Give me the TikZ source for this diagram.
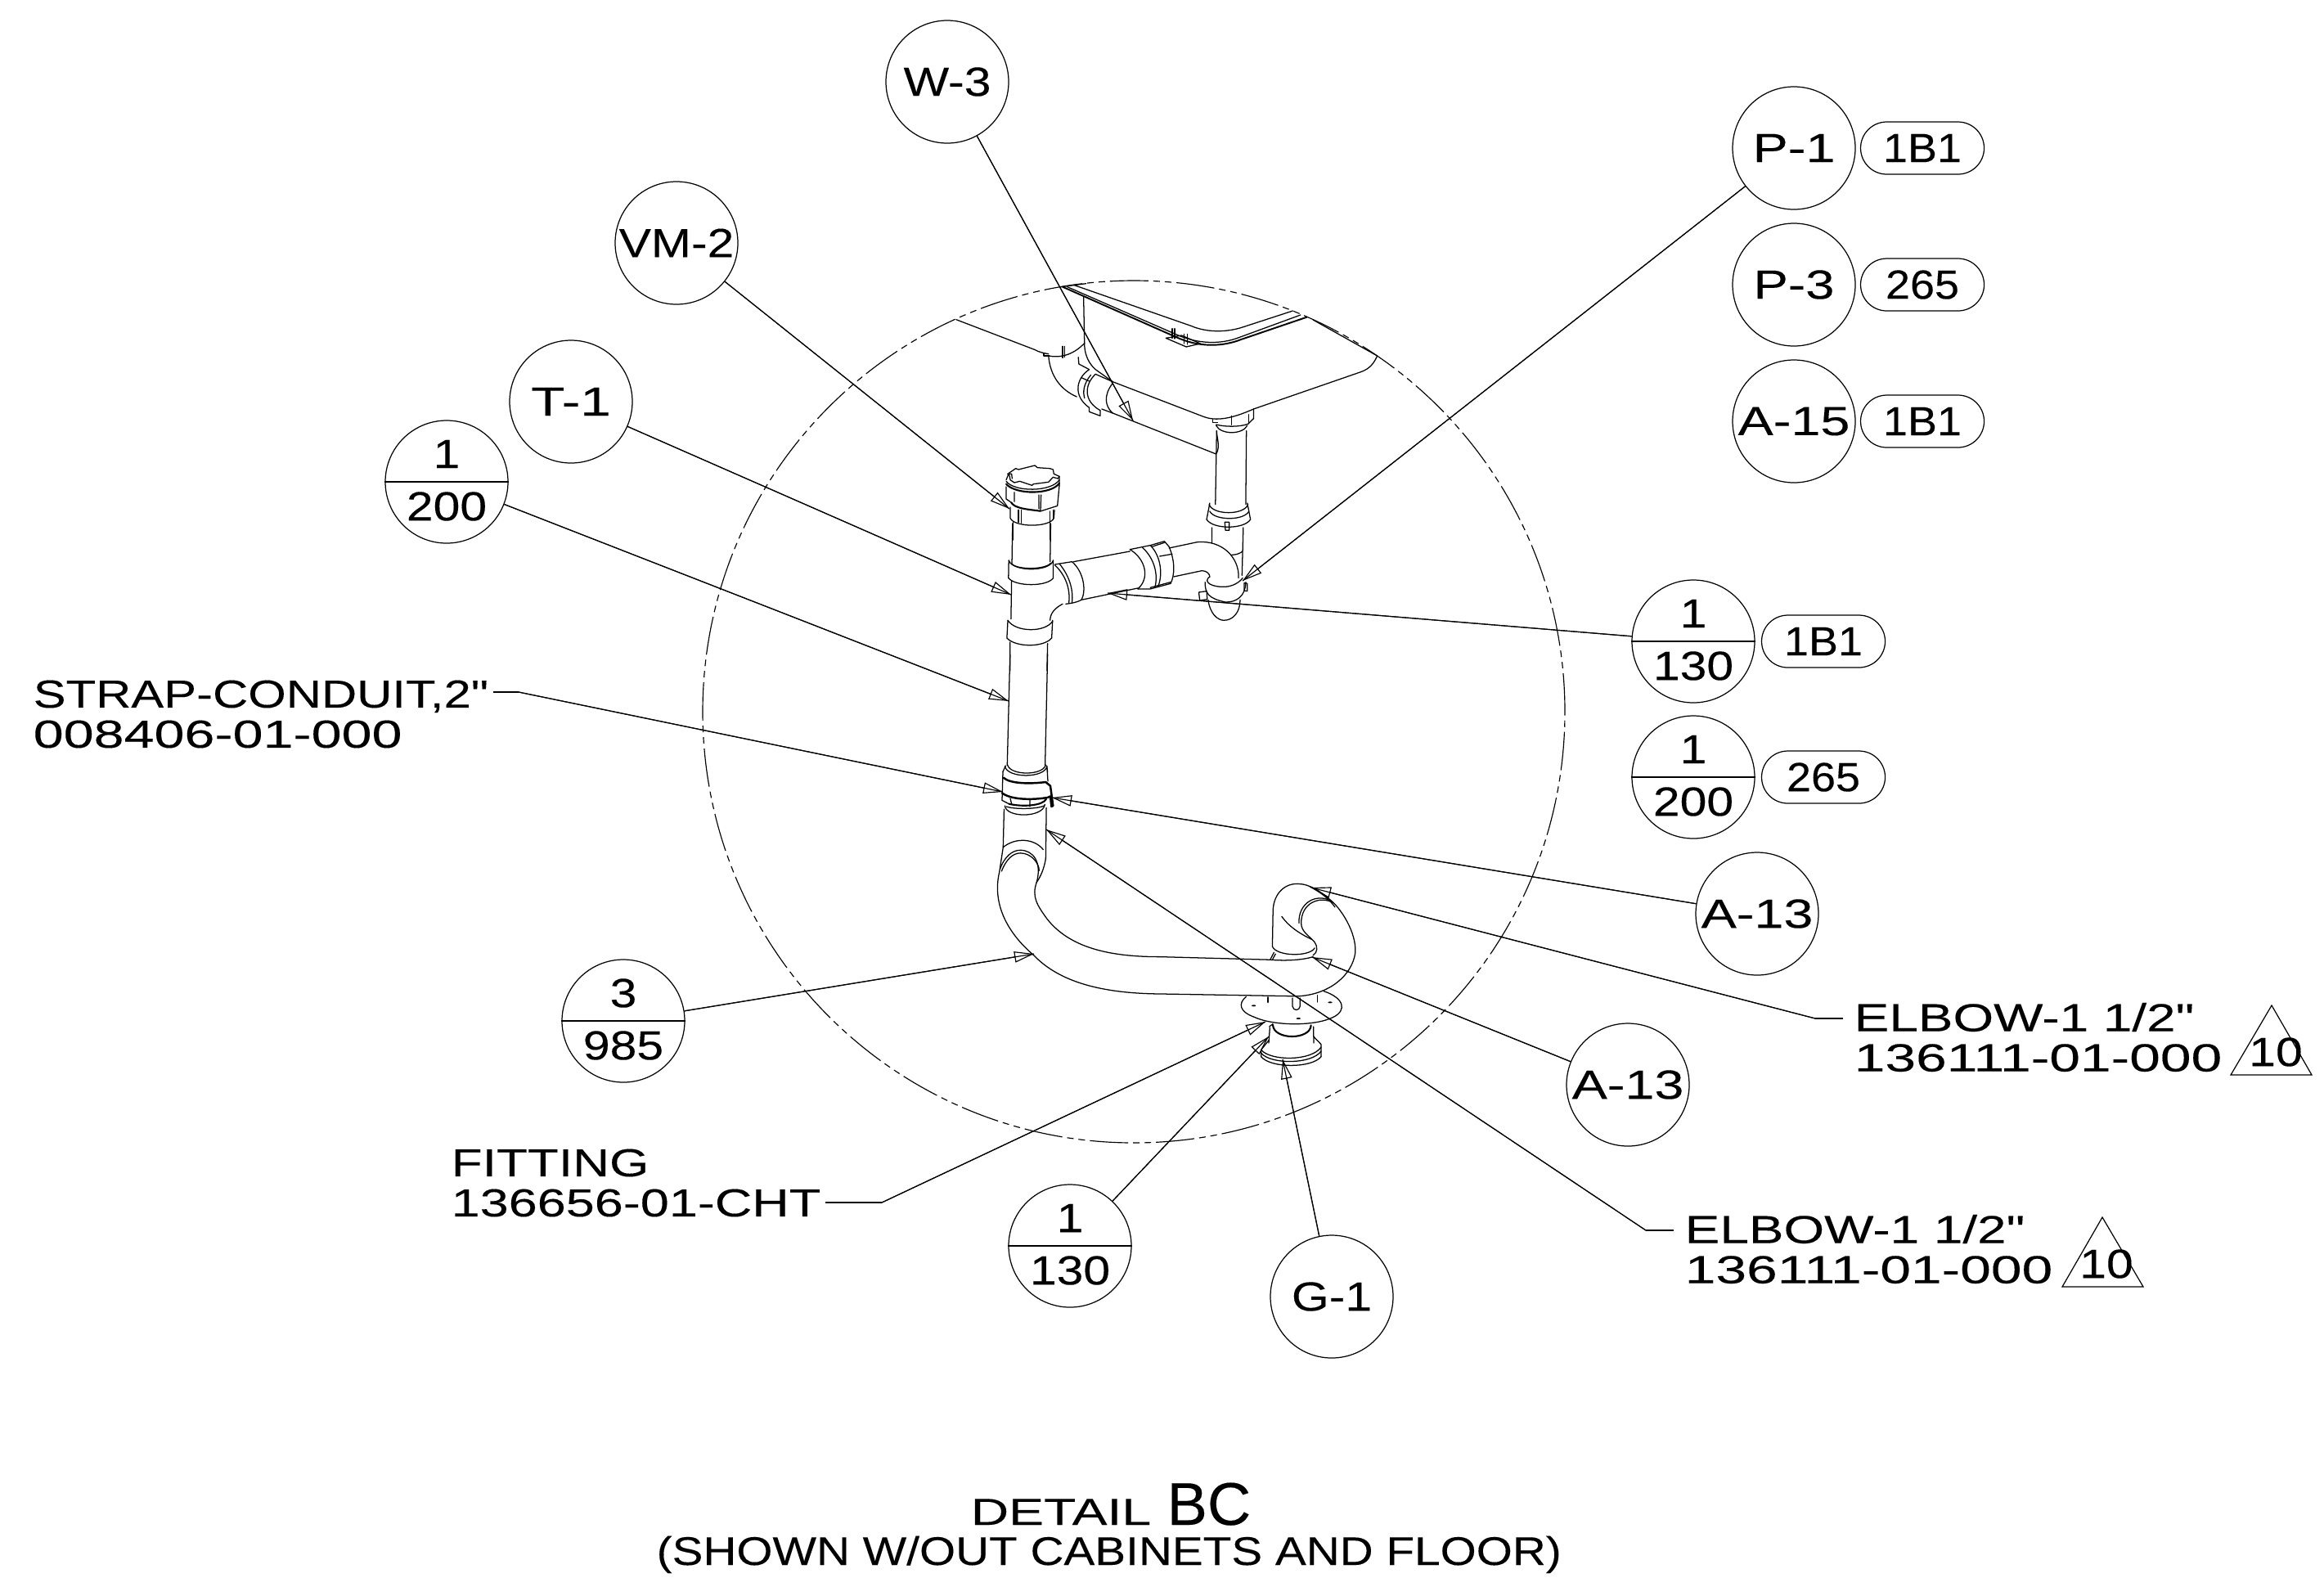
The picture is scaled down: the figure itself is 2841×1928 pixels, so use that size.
\documentclass[tikz,border=0pt]{standalone}
\usepackage{fontspec}
\usepackage{graphicx}
\usetikzlibrary{arrows.meta}
\setmainfont{Liberation Sans}
\newfontfamily\partf[FakeStretch=1.35,FakeBold=.2]{Liberation Sans}
\newfontfamily\circf[FakeStretch=1.18,FakeBold=.2]{Liberation Sans}
\newfontfamily\pillf[FakeStretch=1.08,FakeBold=.2]{Liberation Sans}
\newfontfamily\bigf[FakeBold=.2]{Liberation Sans}
\newcommand\cv[1]{\draw[pipe] plot[smooth,tension=.75] coordinates {#1};}
\newcommand\cvb[1]{\draw[pipe,line width=.7pt] plot[smooth,tension=.75] coordinates {#1};}
\newcommand\sx[2]{\scalebox{#1}[1]{#2}}
\tikzset{
 pipe/.style={line width=.36pt,line join=round,line cap=round},
 tag/.style={circle,draw,line width=.35pt,minimum size=15mm,inner sep=0pt,font=\circf\fontsize{14.2}{15}\selectfont},
 num/.style={inner sep=0pt,font=\circf\fontsize{14.2}{15}\selectfont},
 pill/.style={rounded corners=3.2mm,draw,line width=.35pt,minimum width=15.1mm,minimum height=6.4mm,inner sep=0pt,font=\pillf\fontsize{14.2}{15}\selectfont},
 part/.style={inner sep=0pt,align=left,anchor=west,font=\partf\fontsize{13.6}{13.94}\selectfont},
 ldr/.style={line width=.33pt,-{Triangle[open,length=2.4mm,width=1.35mm,line width=.33pt]},postaction={draw,-}},
 plainl/.style={line width=.33pt},
 rev/.style={line width=.35pt,line join=miter},
}
\begin{document}
\begin{tikzpicture}[x=.1mm,y=-.1mm]
\path[use as bounding box] (0,0) rectangle (2841,1928);
% detail circle
\node[circle,draw,line width=.33pt,minimum size=105.4mm,inner sep=0pt,dash pattern=on 4.7mm off .6mm on .8mm off .6mm on .8mm off .6mm] (detail) at (1386,870) {};
% ---------- upper assembly
\begin{scope}[shift={(1100,320)},xscale=.3827,yscale=.3333]
% sink
\draw[pipe] (180,212)--(430,322) .. controls (445,332) and (460,335) .. (475,338);
\draw[pipe] (475,345) .. controls (520,355) and (560,335) .. (590,298);
\draw[pipe,line width=.55pt] (520,92)--(880,275) .. controls (955,315) and (1030,312) .. (1090,285)--(1300,203);
\draw[pipe] (515,92)--(595,80);
\draw[pipe] (555,85)--(930,235) .. controls (985,262) and (1050,258) .. (1100,238)--(1255,180);
\draw[pipe] (535,92)--(880,265) .. controls (955,305) and (1030,302) .. (1085,277)--(1280,195);
\draw[pipe] (1320,213)--(1525,345);
\draw[pipe] (1525,345) .. controls (1510,385) and (1490,397) .. (1470,405)--(1130,540);
\draw[pipe] (1130,540) .. controls (1080,565) and (1020,590) .. (970,568)--(680,440);
\draw[pipe] (587,130)--(590,310) .. controls (592,345) and (605,375) .. (625,395)--(680,440);
\draw[pipe] (680,555)--(1010,705);
\draw[pipe] (1010,705) .. controls (1025,680) and (1012,645) .. (1012,620);
\draw[pipe] (680,445) .. controls (650,490) and (655,530) .. (680,555);
% clip on rim
\draw[pipe] (850,280)--(915,312)--(960,300)--(900,270)--cycle;
\draw[pipe] (870,245)--(870,280) (878,245)--(878,282) (908,265)--(908,300) (918,265)--(918,303);
% left elbow
\draw[pipe] (475,345) .. controls (480,420) and (515,470) .. (565,495);
\draw[pipe] (460,335)--(460,345)--(478,345);
\draw[pipe] (520,310)--(520,352) (527,310)--(527,350);
\draw[pipe] (570,350)--(572,375)--(605,395);
\draw[pipe] (605,395) .. controls (565,425) and (550,490) .. (605,535);
\draw[pipe] (625,412) .. controls (590,450) and (585,510) .. (640,545);
\draw[pipe] (610,415) .. controls (585,450) and (585,480) .. (590,500);
\draw[pipe] (580,425)--(605,438);
\draw[pipe] (605,535)--(605,550)--(640,565)--(640,545);
\draw[pipe] (625,412)--(680,440);
\draw[pipe] (645,540)--(680,555);
% right drain
\draw[pipe] (1000,578)--(1000,590)--(1015,590);
\draw[pipe] (1060,565)--(1060,598) (1115,560)--(1115,590);
\draw[pipe] (1130,540)--(1130,575)--(1112,595);
\draw[pipe] (1010,597) .. controls (1040,606) and (1085,606) .. (1112,595);
\draw[pipe] (1010,600) .. controls (1025,635) and (1095,635) .. (1110,600);
\draw[pipe] (1012,620)--(1008,890) (1107,620)--(1105,890);
\draw[pipe] (990,885)--(980,945) (1110,885)--(1120,945);
\draw[pipe] (988,890) .. controls (1000,930) and (1100,930) .. (1112,890);
\draw[pipe] (990,915) .. controls (1005,950) and (1100,950) .. (1115,915);
\draw[pipe] (980,945) .. controls (1000,982) and (1100,982) .. (1120,945);
\draw[pipe] (1038,955)--(1040,985)--(1052,985)--(1052,955)--cycle;
\draw[pipe] (997,975)--(997,1030) (1097,975)--(1093,1150);
\draw[pipe] (1060,1075) .. controls (1075,1075) and (1085,1070) .. (1095,1062);
% trap
\draw[pipe] (860,1050)--(950,1028) .. controls (1030,1020) and (1085,1085) .. (1082,1160);
\draw[pipe] (875,1155)--(965,1133) .. controls (980,1133) and (990,1145) .. (990,1155);
\draw[pipe] (990,1155) .. controls (965,1175) and (1000,1195) .. (1040,1192) .. controls (1065,1190) and (1085,1175) .. (1095,1160);
\draw[pipe] (975,1175) .. controls (975,1215) and (985,1235) .. (1040,1248) .. controls (1075,1250) and (1105,1225) .. (1105,1175);
\draw[pipe] (985,1240) .. controls (990,1290) and (1015,1315) .. (1035,1315) .. controls (1065,1315) and (1087,1285) .. (1087,1240);
\draw[pipe] (955,1212)--(980,1208)--(982,1238)--(958,1242)--cycle;
\draw[pipe] (1100,1178)--(1110,1180)--(1110,1208)--(1100,1206)--cycle;
% union on horizontal tube
\draw[pipe] (735,1055)--(800,1040)--(845,1025)--(860,1045);
\draw[pipe] (860,1045) .. controls (880,1100) and (878,1150) .. (865,1180)--(800,1200)--(760,1200);
\draw[pipe] (735,1055) .. controls (785,1090) and (800,1160) .. (760,1200);
\draw[pipe] (800,1040) .. controls (835,1080) and (840,1150) .. (825,1190);
\draw[pipe] (775,1048) .. controls (815,1090) and (825,1150) .. (815,1193);
\draw[pipe] (805,1045)--(845,1030) (830,1080)--(870,1072) (800,1195)--(865,1175);
\draw[pipe] (555,1100)--(735,1062) (580,1240)--(760,1197);
\draw[pipe] (495,1110)--(550,1100) .. controls (590,1140) and (595,1210) .. (580,1240) .. controls (565,1250) and (545,1253) .. (530,1255);
\draw[pipe] (495,1112) .. controls (530,1150) and (545,1200) .. (540,1250);
\draw[pipe] (510,1108) .. controls (540,1150) and (555,1200) .. (550,1250);
\draw[pipe] (520,1255) .. controls (495,1270) and (480,1290) .. (480,1315);
% left riser
\draw[pipe] (360,960)--(358,1110) (482,960)--(480,1100);
\draw[pipe] (348,1095)--(347,1160) (490,1095)--(490,1160);
\draw[pipe] (347,1160) .. controls (370,1192) and (470,1192) .. (490,1160);
\draw[pipe] (348,1095) .. controls (360,1138) and (480,1138) .. (490,1095);
\draw[pipe] (358,1108) .. controls (375,1130) and (465,1130) .. (482,1105);
\draw[pipe] (357,1170)--(355,1310);
\draw[pipe] (345,1315)--(342,1380) (488,1315)--(485,1380);
\draw[pipe] (342,1380) .. controls (370,1415) and (460,1415) .. (485,1380);
\draw[pipe] (345,1315) .. controls (370,1360) and (465,1360) .. (488,1318);
\draw[pipe] (352,1395)--(352,1500) (472,1400)--(470,1500);
\end{scope}
% ---------- cap
\begin{scope}[shift={(1200,550)},scale=.3333]
\draw[pipe] (100,85)--(125,68)--(135,72)--(195,57)--(205,65)--(250,68)--(262,72)--(265,88)--(285,97)--(280,105)--(262,100)--(245,118)--(190,125)--(185,130)--(140,115)--(120,120)--(105,110)--cycle;
\draw[pipe] (95,88)--(110,88)--(112,105);
\draw[pipe] (90,115) .. controls (120,155) and (255,155) .. (285,110);
\draw[pipe,line width=.6pt] (90,125) .. controls (125,165) and (255,165) .. (285,122);
\draw[pipe] (90,110)--(100,85) (285,97)--(285,130);
\draw[pipe] (90,135)--(90,180)--(105,190);
\draw[pipe] (285,130)--(278,205)--(215,225);
\draw[pipe] (210,165)--(210,215) (218,165)--(216,222) (120,155)--(120,190);
\draw[pipe,line width=.6pt] (108,192) .. controls (120,215) and (170,218) .. (215,224);
\draw[pipe] (105,210)--(105,250) .. controls (120,285) and (250,285) .. (265,250)--(267,220);
\draw[pipe] (135,220)--(135,265) (145,220)--(145,268) (250,225)--(250,270) (262,220)--(262,255);
\draw[pipe] (115,265)--(115,330) (250,272)--(250,330);
\end{scope}
% ---------- lower assembly
\begin{scope}[shift={(1100,800)},xscale=.3827,yscale=.3571]
\draw[pipe] (352,0)--(343,380) (472,0)--(464,380);
\draw[pipe] (318,745) .. controls (295,850) and (340,950) .. (428,1030) .. controls (500,1110) and (620,1160) .. (830,1162)--(1270,1170) .. controls (1370,1165) and (1445,1100) .. (1455,1020) .. controls (1458,950) and (1410,875) .. (1385,850) .. controls (1350,815) and (1310,785) .. (1270,785) .. controls (1220,785) and (1192,830) .. (1192,880)--(1190,1000);
\draw[pipe] (437,780) .. controls (420,830) and (440,860) .. (470,905) .. controls (540,1000) and (660,1035) .. (830,1035)--(1180,1045) .. controls (1240,1050) and (1290,1045) .. (1320,1035);
\draw[pipe] (1190,1000) .. controls (1205,1035) and (1310,1035) .. (1325,1005);
\draw[pipe] (1310,795) .. controls (1345,815) and (1370,835) .. (1390,865);
\draw[pipe] (1385,850) .. controls (1340,825) and (1282,850) .. (1282,920) .. controls (1282,950) and (1310,965) .. (1325,985) .. controls (1335,1000) and (1335,1020) .. (1320,1030);
\draw[pipe] (1380,845) .. controls (1330,815) and (1272,850) .. (1275,920);
\draw[pipe] (1220,897) .. controls (1245,935) and (1285,960) .. (1315,975);
\draw[pipe] (1183,1045)--(1195,1020) (1190,1045)--(1200,1025);
% elbow at base of riser
\draw[pipe] (333,530)--(330,660) (468,525)--(466,700);
\draw[pipe] (330,660)--(318,745);
\draw[pipe] (466,700) .. controls (460,735) and (450,760) .. (437,780);
\draw[pipe] (330,660) .. controls (370,625) and (430,630) .. (458,668);
\draw[pipe] (320,735) .. controls (335,690) and (360,670) .. (385,670) .. controls (425,670) and (455,710) .. (437,780);
\draw[pipe] (325,742) .. controls (340,700) and (362,680) .. (385,680) .. controls (420,680) and (445,715) .. (445,740);
\end{scope}
% ---------- clamp
\begin{scope}[shift={(1180,920)},scale=.3333]
\draw[pipe] (155,45) .. controls (165,85) and (285,85) .. (295,45);
\draw[pipe] (145,50) .. controls (155,95) and (290,95) .. (300,50);
\draw[pipe] (138,70)--(135,175) (300,55)--(303,105);
\draw[pipe] (138,70)--(148,48) (302,70)--(298,48);
\draw[pipe,line width=.7pt] (140,92) .. controls (165,115) and (240,115) .. (295,108)--(312,122)--(322,195)--(316,198)--(312,160)--(302,165);
\draw[pipe,line width=.7pt] (135,148) .. controls (165,172) and (240,175) .. (300,165);
\draw[pipe] (135,175)--(160,188);
\draw[pipe,line width=.6pt] (160,188) .. controls (210,200) and (285,195) .. (297,170);
\draw[pipe] (165,168)--(170,188) (237,172)--(237,198);
\draw[pipe] (150,198) .. controls (180,208) and (260,208) .. (290,195);
\draw[pipe] (145,195) .. controls (150,240) and (285,240) .. (292,190);
\end{scope}
% ---------- floor fitting
\begin{scope}[shift={(1500,1180)},scale=.3333]
\draw[pipe] (70,115) .. controls (40,140) and (45,170) .. (100,190) .. controls (170,222) and (320,225) .. (390,190) .. controls (440,165) and (430,120) .. (355,95);
\fill (98,148) ellipse [x radius=8,y radius=3];
\fill (378,136) ellipse [x radius=8,y radius=3];
\fill (262,195) ellipse [x radius=8,y radius=3];
\draw[pipe] (240,120)--(240,150) .. controls (242,168) and (266,168) .. (268,150)--(268,120);
\draw[pipe,line width=.8pt] (150,118)--(150,135);
\draw[pipe] (332,110)--(332,135);
\draw[pipe,line width=.6pt] (168,218) .. controls (170,275) and (305,275) .. (308,220);
\draw[pipe] (157,228)--(153,285);
\draw[pipe] (317,225)--(318,285);
\draw[pipe] (155,225)--(168,215);
\draw[pipe] (318,262)--(345,290)--(345,335);
\draw[pipe] (153,275)--(125,310)--(125,335);
\draw[pipe] (125,310) .. controls (160,352) and (310,352) .. (345,300);
\draw[pipe] (125,322) .. controls (160,364) and (310,364) .. (345,315);
\draw[pipe] (125,335) .. controls (160,378) and (310,378) .. (345,335);
\end{scope}
% ---------- callout tags
\node[tag] (W3) at (1158,100) {W-3};
\node[tag] (VM2) at (827,297) {VM-2};
\node[tag] (T1) at (698,491) {\sx{1.15}{T-1}};
\node[tag] (F200L) at (546,589) {};
\node[tag] (P1) at (2193,181) {\sx{1.1}{P-1}};
\node[tag] (P3) at (2193,348) {\sx{1.08}{P-3}};
\node[tag] (A15) at (2193,515) {\sx{1.1}{A-15}};
\node[tag] (F130R) at (2070,784) {};
\node[tag] (F200R) at (2070,950) {};
\node[tag] (A13U) at (2148,1117) {\sx{1.1}{A-13}};
\node[tag] (A13L) at (1990,1326) {\sx{1.1}{A-13}};
\node[tag] (G1) at (1628,1585) {G-1};
\node[tag] (F130B) at (1308,1523) {};
\node[tag] (F985) at (762,1248) {};
\foreach \c in {F200L,F130R,F200R,F130B,F985}{\draw[plainl] (\c.west)--(\c.east);}
\node[num] (n1a) at (546,555) {1}; \node[num] (n1b) at (546,619) {200};
\node[num] (n2a) at (2070,750) {1}; \node[num] (n2b) at (2070,814) {130};
\node[num] (n3a) at (2070,916) {1}; \node[num] (n3b) at (2070,980) {200};
\node[num] (n4a) at (1308,1489) {1}; \node[num] (n4b) at (1308,1553) {130};
\node[num] (n5a) at (762,1214) {3}; \node[num] (n5b) at (762,1278) {985};
\node[pill] (p1) at (2350,181) {1B1};
\node[pill] (p2) at (2350,348) {265};
\node[pill] (p3) at (2350,515) {1B1};
\node[pill] (p4) at (2229,784) {1B1};
\node[pill] (p5) at (2229,950) {265};
% ---------- part labels
\node[part] (strap) at (40,873) {\sx{.927}{STRAP-CONDUIT,2"}\\\sx{1.03}{008406-01-000}};
\node[part] (fit) at (551,1446) {\sx{.963}{FITTING}\\\sx{.976}{136656-01-CHT}};
\node[part] (elbU) at (2266,1268) {\sx{.99}{ELBOW-1 1/2"}\\\sx{1.05}{136111-01-000}};
\node[part] (elbL) at (2059,1527) {\sx{.99}{ELBOW-1 1/2"}\\\sx{1.05}{136111-01-000}};
% revision triangles
\coordinate (ra1) at (2777,1229); \coordinate (ra2) at (2727,1314); \coordinate (ra3) at (2826,1314);
\coordinate (rb1) at (2570,1488); \coordinate (rb2) at (2521,1573); \coordinate (rb3) at (2620,1573);
\draw[rev] (ra1)--(ra2)--(ra3)--cycle;
\draw[rev] (rb1)--(rb2)--(rb3)--cycle;
\node[num] (r1) at (2782,1286) {10};
\node[num] (r2) at (2575,1545) {10};
% ---------- leader tips
\coordinate (tW3) at (1385,514);
\coordinate (tVM2) at (1234,622);
\coordinate (tT1) at (1236,727);
\coordinate (tF200) at (1233,857);
\coordinate (tP1) at (1519,710);
\coordinate (tF130R) at (1354,725);
\coordinate (tA13U) at (1286,975);
\coordinate (tStrap) at (1226,968);
\coordinate (tElbL) at (1279,1014);
\coordinate (tElbU) at (1603,1085);
\coordinate (tA13L) at (1604,1170);
\coordinate (t985) at (1264,1166);
\coordinate (tFit) at (1547,1249);
\coordinate (tF130B) at (1551,1267);
\coordinate (tG1) at (1568,1295);
% landings
\coordinate (cStrap) at (634,846); \coordinate (eStrap) at (603,846);
\coordinate (cFit) at (1078,1470); \coordinate (eFit) at (1009,1470);
\coordinate (cElbU) at (2219,1245); \coordinate (eElbU) at (2253,1245);
\coordinate (cElbL) at (2012,1504); \coordinate (eElbL) at (2046,1504);
\draw[ldr] (W3) -- (tW3);
\draw[ldr] (VM2) -- (tVM2);
\draw[ldr] (T1) -- (tT1);
\draw[ldr] (F200L) -- (tF200);
\draw[ldr] (P1) -- (tP1);
\draw[ldr] (F130R) -- (tF130R);
\draw[ldr] (A13U) -- (tA13U);
\draw[ldr] (A13L) -- (tA13L);
\draw[ldr] (F985) -- (t985);
\draw[ldr] (F130B) -- (tF130B);
\draw[ldr] (G1) -- (tG1);
\draw[plainl] (eStrap) -- (cStrap); \draw[ldr] (cStrap) -- (tStrap);
\draw[plainl] (eFit) -- (cFit); \draw[ldr] (cFit) -- (tFit);
\draw[plainl] (eElbU) -- (cElbU); \draw[ldr] (cElbU) -- (tElbU);
\draw[plainl] (eElbL) -- (cElbL); \draw[ldr] (cElbL) -- (tElbL);
% ---------- title
\node[inner sep=0pt,anchor=base west,font=\partf\fontsize{13.1}{14}\selectfont] (t1) at (1186,1864) {\sx{1.035}{DETAIL}};
\node[inner sep=0pt,anchor=base west,font=\bigf\fontsize{21}{22}\selectfont] (t2) at (1426,1864) {BC};
\node[inner sep=0pt,anchor=base west,font=\partf\fontsize{13.9}{14}\selectfont] (t3) at (802,1913) {\sx{.86}{(SHOWN W/OUT CABINETS AND FLOOR)}};
\end{tikzpicture}
\end{document}
